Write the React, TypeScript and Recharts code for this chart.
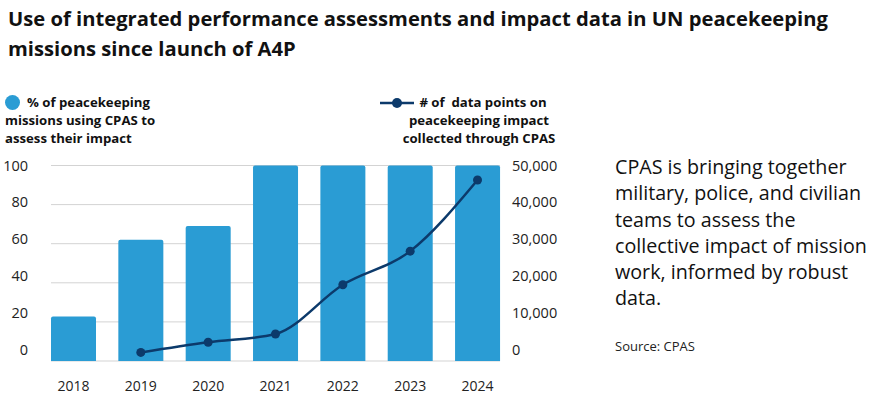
import React from 'react';
import { ComposedChart, Bar, Line, XAxis, YAxis, CartesianGrid } from 'recharts';

const years = ['2018', '2019', '2020', '2021', '2022', '2023', '2024'];
const missionShare = [22.7, 62, 69, 100, 100, 100, 100];
const dataPoints: (number | null)[] = [null, 2200, 4800, 6900, 19500, 28100, 46300];
const leftTicks = [0, 20, 40, 60, 80, 100];
const rightTicks = [0, 10000, 20000, 30000, 40000, 50000];

const chartData = years.map((year, i) => ({
  year,
  share: missionShare[i],
  points: dataPoints[i],
}));

const FONT = '"Open Sans", sans-serif';
const BAR = '#2a9cd4';
const LINE = '#0c3a6b';

// the original's axis labels drift up from the gridlines toward the bottom
const labelShift = (frac: number) => (1 - frac) * 11;

function LeftTick(props: any) {
  const { y, payload } = props;
  const v = payload.value as number;
  return (
    <text x={28} y={y - labelShift(v / 100) + 5} textAnchor="end" fontSize={14.5} fill="#222" fontFamily={FONT}>
      {v}
    </text>
  );
}

function RightTick(props: any) {
  const { x, y, payload } = props;
  const v = payload.value as number;
  return (
    <text x={x + 12} y={y - labelShift(v / 50000) + 5} textAnchor="start" fontSize={14.5} fill="#222" fontFamily={FONT}>
      {v.toLocaleString('en-US')}
    </text>
  );
}

function YearTick(props: any) {
  const { x, y, payload } = props;
  return (
    <text x={x} y={y + 30} textAnchor="middle" fontSize={14} fill="#222" fontFamily={FONT}>
      {payload.value}
    </text>
  );
}

export default function App() {
  return (
    <div style={{ position: 'absolute', left: 0, top: 0, width: 876, height: 399, background: '#fff', fontFamily: FONT, color: '#111' }}>
      <div style={{ position: 'absolute', left: 8, top: 3, width: 860, fontSize: 20.2, fontWeight: 700, lineHeight: '30px' }}>
        Use of integrated performance assessments and impact data in UN peacekeeping missions since launch of A4P
      </div>

      <div style={{ position: 'absolute', left: 5, top: 95, width: 15, height: 15, borderRadius: '50%', background: BAR }} />
      <div style={{ position: 'absolute', left: 5, top: 93, width: 220, fontSize: 13.2, fontWeight: 700, lineHeight: '18px' }}>
        <div style={{ paddingLeft: 22 }}>% of peacekeeping</div>
        <div>missions using CPAS to</div>
        <div>assess their impact</div>
      </div>

      <svg style={{ position: 'absolute', left: 378, top: 96 }} width={38} height={14}>
        <line x1={2} y1={7} x2={36} y2={7} stroke={LINE} strokeWidth={2.5} />
        <circle cx={19} cy={7} r={5} fill={LINE} />
      </svg>
      <div style={{ position: 'absolute', left: 394, top: 93, width: 170, fontSize: 13.2, fontWeight: 700, lineHeight: '18px', textAlign: 'center' }}>
        <div style={{ paddingLeft: 8 }}>#&nbsp;of&nbsp; data points on</div>
        <div>peacekeeping impact</div>
        <div>collected through CPAS</div>
      </div>

      <div style={{ position: 'absolute', left: 0, top: 140 }}>
        <ComposedChart
          width={570}
          height={259}
          data={chartData}
          margin={{ top: 25.5, right: 0, bottom: 8, left: 0 }}
          barCategoryGap={11.2}
        >
          <CartesianGrid vertical={false} stroke="#d3d3d3" strokeWidth={1} yAxisId="left" />
          <XAxis
            dataKey="year"
            axisLine={false}
            tickLine={false}
            tickSize={0}
            tickMargin={0}
            height={30}
            padding={{ left: -11.2, right: -11.2 }}
            tick={<YearTick />}
          />
          <YAxis
            yAxisId="left"
            domain={[0, 100]}
            ticks={leftTicks}
            width={51}
            axisLine={false}
            tickLine={false}
            tickSize={0}
            tickMargin={0}
            tick={<LeftTick />}
          />
          <YAxis
            yAxisId="right"
            orientation="right"
            domain={[0, 50000]}
            ticks={rightTicks}
            width={70}
            axisLine={false}
            tickLine={false}
            tickSize={0}
            tickMargin={0}
            tick={<RightTick />}
          />
          <Bar yAxisId="left" dataKey="share" fill={BAR} radius={[2, 2, 0, 0]} isAnimationActive={false} />
          <Line
            yAxisId="right"
            type="monotone"
            dataKey="points"
            stroke={LINE}
            strokeWidth={2.5}
            dot={{ r: 4.5, fill: LINE, stroke: LINE, strokeWidth: 0 }}
            activeDot={false}
            connectNulls={false}
            isAnimationActive={false}
          />
        </ComposedChart>
      </div>

      <div style={{ position: 'absolute', left: 615, top: 154, width: 256, fontSize: 19.7, lineHeight: '26.3px', color: '#111' }}>
        CPAS is bringing together military, police, and civilian teams to assess the collective impact of mission work, informed by robust data.
      </div>
      <div style={{ position: 'absolute', left: 615, top: 337, fontSize: 13, color: '#222' }}>Source: CPAS</div>
    </div>
  );
}
